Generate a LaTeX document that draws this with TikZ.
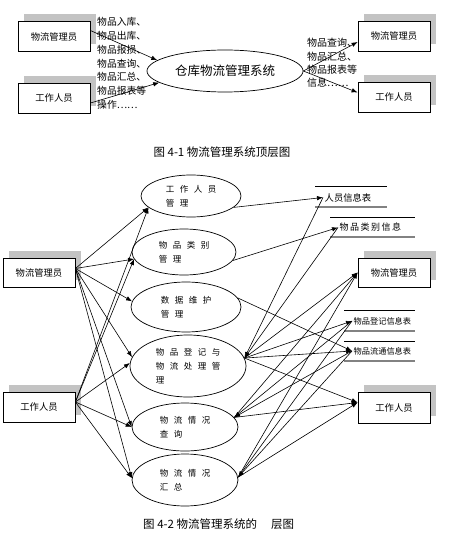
\documentclass[tikz,border=0pt]{standalone}
\usepackage{fontspec}
\setmainfont{Noto Sans CJK SC}
\usetikzlibrary{arrows.meta,shadows,shapes.geometric}
\definecolor{shadowgray}{RGB}{195,195,195}
\definecolor{storegray}{RGB}{130,130,130}
\newcommand\cgap{\hspace{5.5pt}}
\begin{document}
\begin{tikzpicture}[x=1pt,y=-1pt,
  every node/.style={inner sep=0pt},
  actor/.style={draw,line width=0.8pt,fill=white,minimum width=72pt,minimum height=30pt,
    font=\fontsize{9.3}{10}\selectfont,
    drop shadow={shadow xshift=6pt,shadow yshift=7pt,fill=shadowgray,opacity=1}},
  proc/.style={draw,line width=0.7pt,ellipse,fill=white,align=left,
    font=\fontsize{8.5}{14}\selectfont},
  store/.style={anchor=west,inner sep=1.5pt,font=\fontsize{9.3}{10}\selectfont},
  flow/.style={line width=0.6pt,-{Latex[length=6pt,width=4.5pt]}},
  lbl/.style={align=left,font=\fontsize{9.8}{13.8}\selectfont}
]
\useasboundingbox (0,0) rectangle (464,537);
% ---------- top diagram ----------
\node[actor] (TA) at (54,36.5) {物流管理员};
\node[actor] (TW) at (54,98) {工作人员};
\node[actor] (RA) at (394,36) {物流管理员};
\node[actor] (RW) at (394,97.5) {工作人员};
\node[proc,minimum width=156pt,minimum height=42pt,font=\fontsize{12.5}{14}\selectfont] (TE) at (225,71) {仓库物流管理系统};
\node[lbl,anchor=west] (TL) at (97,63.4) {物品入库、\\物品出库、\\物品报损、\\物品查询、\\物品汇总、\\物品报表等\\操作……};
\node[lbl,anchor=west,font=\fontsize{10}{13.3}\selectfont] (TR) at (307,63) {物品查询、\\物品汇总、\\物品报表等\\信息……};
\draw[flow] ([yshift=6pt]TA.east) -- (TE.171);
\draw[flow] ([yshift=-5pt]TW.east) -- (TE.190);
\draw[flow] (TE.east) -- ([yshift=-6pt]RA.west);
\draw[flow] (TE.east) -- ([yshift=5pt]RW.west);
\node[font=\fontsize{11.5}{13}\selectfont] (C1) at (222,152) {图 4-1 物流管理系统顶层图};
% ---------- bottom diagram ----------
\node[actor,minimum height=29pt] (LA) at (39,272.5) {物流管理员};
\node[actor] (LW) at (39,407) {工作人员};
\node[actor,minimum height=29pt] (RA2) at (394,272.5) {物流管理员};
\node[actor,minimum height=31pt] (RW2) at (394,407.5) {工作人员};
\node[proc,minimum width=100pt,minimum height=42pt] (E1) at (191,196) {工\cgap 作\cgap 人\cgap 员\\管\cgap 理};
\node[proc,minimum width=104pt,minimum height=46pt] (E2) at (184,252) {物\cgap 品\cgap 类\cgap 别\\管\cgap 理};
\node[proc,minimum width=110pt,minimum height=50pt] (E3) at (186,307) {数\cgap 据\cgap 维\cgap 护\\管\cgap 理};
\node[proc,minimum width=116pt,minimum height=62pt] (E4) at (188,366) {物\cgap 品\cgap 登\cgap 记\cgap 与\\物\cgap 流\cgap 处\cgap 理\cgap 管\\理};
\node[proc,minimum width=106pt,minimum height=48pt] (E5) at (185,427) {物\cgap 流\cgap 情\cgap 况\\查\cgap 询};
\node[proc,minimum width=106pt,minimum height=52pt] (E6) at (185,480) {物\cgap 流\cgap 情\cgap 况\\汇\cgap 总};
% data stores
\node[store] (S1) at (323,197.5) {人员信息表};
\draw[line width=0.6pt] (315,186) -- (387,186);
\draw[storegray,line width=1.2pt] (315,207) -- (387,207);
\node[store,font=\fontsize{9}{10}\selectfont] (S2) at (338,227.5) {物\hspace{1.5pt}品\hspace{1.5pt}类\hspace{1.5pt}别\hspace{1.5pt}信\hspace{1.5pt}息};
\draw[line width=0.6pt] (330,217) -- (415,217);
\draw[storegray,line width=1.2pt] (330,237) -- (415,237);
\node[store,font=\fontsize{8.2}{10}\selectfont] (S3) at (352,321) {物品登记信息表};
\draw[line width=0.6pt] (344,310) -- (415,310);
\draw[storegray,line width=1.2pt] (344,331) -- (415,331);
\node[store,font=\fontsize{8.2}{10}\selectfont] (S4) at (352,351) {物品流通信息表};
\draw[line width=0.6pt] (344,341) -- (415,341);
\draw[storegray,line width=1.2pt] (344,361) -- (415,361);
% left flows
\coordinate (LAo) at ([yshift=4pt]LA.east);
\coordinate (LWo) at ([yshift=5pt]LW.east);
\draw[flow] (LAo) -- (E1.195);
\draw[flow] (LAo) -- (E2.188);
\draw[flow] (LAo) -- (E3.174);
\draw[flow] (LAo) -- (E4.171);
\draw[flow] (LAo) -- (E5.180);
\draw[flow] (LAo) -- (E6.178);
\draw[flow] (LWo) -- (E1.195);
\draw[flow] (LWo) -- (E2.188);
\draw[flow] (LWo) -- (E4.177);
\draw[flow] (LWo) -- (E5.180);
\draw[flow] (LWo) -- (E6.178);
% right flows
\draw[flow] (E1.345) -- (S1.west);
\draw[flow] (E2.350) -- (S2.west);
\draw[flow] (E3.10) -- (S4.west);
\draw[flow] (S1.west) -- (E4.8);
\draw[flow] (S2.west) -- (E4.8);
\draw[flow] (E4.8) -- (S3.west);
\draw[flow] (E4.8) -- (S4.west);
\draw[flow] (E4.8) -- (RA2.west);
\draw[flow] (E4.8) -- ([yshift=5pt]RW2.west);
\draw[flow] (S3.west) -- (E5.11);
\draw[flow] (S4.west) -- (E5.11);
\draw[flow] (E5.11) -- (RA2.west);
\draw[flow] (E5.11) -- ([yshift=5pt]RW2.west);
\draw[flow] (S3.west) -- (E6.3);
\draw[flow] (S4.west) -- (E6.3);
\draw[flow] (E6.3) -- (RA2.west);
\draw[flow] (E6.3) -- ([yshift=5pt]RW2.west);
\node[anchor=west,font=\fontsize{11.5}{13}\selectfont] (C2) at (143,524) {图 4-2 物流管理系统的\hspace{14pt}层图};
\end{tikzpicture}
\end{document}
